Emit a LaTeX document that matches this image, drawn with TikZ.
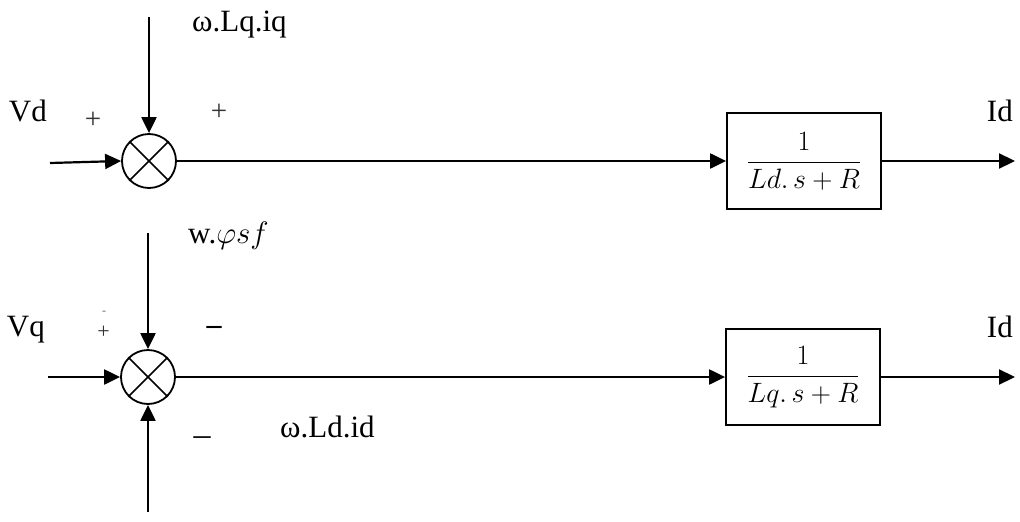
\RequirePackage{fix-cm}
\documentclass[tikz,border=0pt]{standalone}
\usepackage{fontspec}
\setmainfont{Liberation Serif}
\usetikzlibrary{arrows.meta}
\begin{document}
\begin{tikzpicture}[x=1pt,y=-1pt,
  sig/.style={line width=2.2pt,-{Triangle[length=16pt,width=15pt]}},
  summer/.style={circle,draw,line width=1.8pt,minimum size=54pt,inner sep=0pt},
  tf/.style={rectangle,draw,line width=1.8pt,minimum width=154pt,minimum height=96pt,inner sep=0pt,
             font=\fontsize{28}{32}\selectfont},
  lbl/.style={font=\fontsize{31}{36}\selectfont,inner sep=0pt},
  sgn/.style={font=\fontsize{29}{32}\selectfont,inner sep=0pt,text=black!80},
  cross/.style={line width=1.6pt}]
\useasboundingbox (0,0) rectangle (1020,522);

% ---- d-axis loop ----
\node[summer] (s1) at (149,161) {};
\draw[cross] (s1.north west) -- (s1.south east) (s1.north east) -- (s1.south west);
\node[tf] (b1) at (804,161) {$\displaystyle\frac{1}{Ld.\,s+R}$};
\coordinate (vdin) at (50,163);
\coordinate (t1) at (149,17);
\coordinate (id1) at (1015,161);
\draw[sig] (vdin) -- (s1.west);
\draw[sig] (t1) -- (s1.north);
\draw[sig] (s1.east) -- (b1.west);
\draw[sig] (b1.east) -- (id1);

\node[lbl,anchor=base east] (vd) at (47,121) {Vd};
\node[sgn] (p1) at (93,120) {+};
\node[sgn] (p2) at (219,112) {+};
\node[lbl,anchor=base west] (wlq) at (192,31) {ω.Lq.iq};
\node[lbl,anchor=base east] (idt1) at (1013,121) {Id};

% ---- q-axis loop ----
\node[summer] (s2) at (148,377) {};
\draw[cross] (s2.north west) -- (s2.south east) (s2.north east) -- (s2.south west);
\node[tf] (b2) at (803,377) {$\displaystyle\frac{1}{Lq.\,s+R}$};
\coordinate (vqin) at (48,377);
\coordinate (t2) at (148,233);
\coordinate (u2) at (148,512);
\coordinate (id2) at (1015,377);
\draw[sig] (vqin) -- (s2.west);
\draw[sig] (t2) -- (s2.north);
\draw[sig] (u2) -- (s2.south);
\draw[sig] (s2.east) -- (b2.west);
\draw[sig] (b2.east) -- (id2);

\node[lbl,anchor=base east] (vq) at (45,336) {Vq};
\node[inner sep=0pt,font=\fontsize{22}{24}\selectfont,text=black!80] (p3) at (103.5,332) {+};
\node[inner sep=0pt,font=\fontsize{12}{14}\selectfont,text=black!60] (m0) at (104,313) {-};
\node[inner sep=0pt,font=\fontsize{30}{36}\selectfont\bfseries] (m1) at (214,330) {–};
\node[inner sep=0pt,font=\fontsize{34}{40}\selectfont] (m2) at (202,441) {–};
\node[lbl,anchor=base west] (wphi) at (188,243) {w.$\varphi sf$};
\node[lbl,anchor=base west] (wld) at (280,437) {ω.Ld.id};
\node[lbl,anchor=base east] (idt2) at (1013,337) {Id};
\end{tikzpicture}
\end{document}
